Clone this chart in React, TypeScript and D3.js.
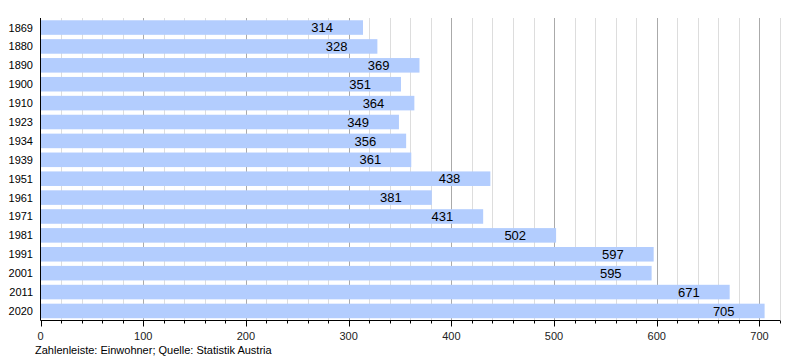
import React, { useEffect, useRef } from 'react';
import * as d3 from 'd3';

const years = ['1869', '1880', '1890', '1900', '1910', '1923', '1934', '1939', '1951', '1961', '1971', '1981', '1991', '2001', '2011', '2020'];
const population = [314, 328, 369, 351, 364, 349, 356, 361, 438, 381, 431, 502, 597, 595, 671, 705];
const majorTicks = [0, 100, 200, 300, 400, 500, 600, 700];
const caption = 'Zahlenleiste: Einwohner; Quelle: Statistik Austria';

const W = 800;
const H = 360;

const App: React.FC = () => {
    const svgRef = useRef<SVGSVGElement>(null);

    useEffect(() => {
        if (!svgRef.current) return;
        const svg = d3.select(svgRef.current);
        svg.selectAll('*').remove();

        const font = '"Liberation Sans", Arial, sans-serif';
        const left = 40.5;
        const right = 780;
        const top = 18;
        const bottom = 320.5;

        const x = d3.scaleLinear().domain([0, 720]).range([left, right]);
        const y = d3.scaleBand<string>().domain(years).range([top, bottom]).paddingInner(0.23).paddingOuter(0.12);

        const minor = d3.range(0, 721, 20).filter(v => v % 100 !== 0);

        // grid
        svg.append('g')
            .selectAll('line')
            .data(minor)
            .join('line')
            .attr('x1', d => Math.round(x(d)) + 0.5)
            .attr('x2', d => Math.round(x(d)) + 0.5)
            .attr('y1', top)
            .attr('y2', bottom)
            .attr('stroke', '#dddddd')
            .attr('stroke-width', 1);

        svg.append('g')
            .selectAll('line')
            .data(majorTicks.filter(v => v > 0))
            .join('line')
            .attr('x1', d => Math.round(x(d)) + 0.5)
            .attr('x2', d => Math.round(x(d)) + 0.5)
            .attr('y1', top)
            .attr('y2', bottom)
            .attr('stroke', '#aaaaaa')
            .attr('stroke-width', 1);

        // bars
        svg.append('g')
            .selectAll('rect')
            .data(population)
            .join('rect')
            .attr('x', x(0))
            .attr('y', (_, i) => y(years[i]) ?? 0)
            .attr('width', d => x(d) - x(0))
            .attr('height', y.bandwidth())
            .attr('fill', '#b3cdfe');

        // value labels
        svg.append('g')
            .selectAll('text')
            .data(population)
            .join('text')
            .attr('x', d => x(d) - 30)
            .attr('y', (_, i) => (y(years[i]) ?? 0) + y.bandwidth() / 2)
            .attr('dy', '0.36em')
            .attr('text-anchor', 'end')
            .attr('font-family', font)
            .attr('font-size', 13)
            .attr('fill', '#000')
            .text(d => d);

        // year labels
        svg.append('g')
            .selectAll('text')
            .data(years)
            .join('text')
            .attr('x', 33)
            .attr('y', d => (y(d) ?? 0) + y.bandwidth() / 2)
            .attr('dy', '0.36em')
            .attr('text-anchor', 'end')
            .attr('font-family', font)
            .attr('font-size', 11)
            .attr('fill', '#000')
            .text(d => d);

        // axes lines
        svg.append('line')
            .attr('x1', left).attr('x2', left)
            .attr('y1', top).attr('y2', bottom)
            .attr('stroke', '#000').attr('stroke-width', 1);
        svg.append('line')
            .attr('x1', left).attr('x2', right)
            .attr('y1', bottom).attr('y2', bottom)
            .attr('stroke', '#000').attr('stroke-width', 1);

        // ticks
        svg.append('g')
            .selectAll('line')
            .data(minor)
            .join('line')
            .attr('x1', d => Math.round(x(d)) + 0.5)
            .attr('x2', d => Math.round(x(d)) + 0.5)
            .attr('y1', bottom)
            .attr('y2', bottom + 3)
            .attr('stroke', '#000');
        svg.append('g')
            .selectAll('line')
            .data(majorTicks)
            .join('line')
            .attr('x1', d => Math.round(x(d)) + 0.5)
            .attr('x2', d => Math.round(x(d)) + 0.5)
            .attr('y1', bottom)
            .attr('y2', bottom + 6)
            .attr('stroke', '#000');

        svg.append('g')
            .selectAll('text')
            .data(majorTicks)
            .join('text')
            .attr('x', d => x(d))
            .attr('y', 336)
            .attr('dy', '0.36em')
            .attr('text-anchor', 'middle')
            .attr('font-family', font)
            .attr('font-size', 11)
            .attr('fill', '#222')
            .text(d => d);

        svg.append('text')
            .attr('x', 35)
            .attr('y', 350)
            .attr('dy', '0.36em')
            .attr('font-family', font)
            .attr('font-size', 11)
            .attr('fill', '#000')
            .text(caption);
    }, []);

    return (
        <svg ref={svgRef} width={W} height={H} style={{ position: 'absolute', left: 0, top: 0 }}></svg>
    );
};

export default App;
